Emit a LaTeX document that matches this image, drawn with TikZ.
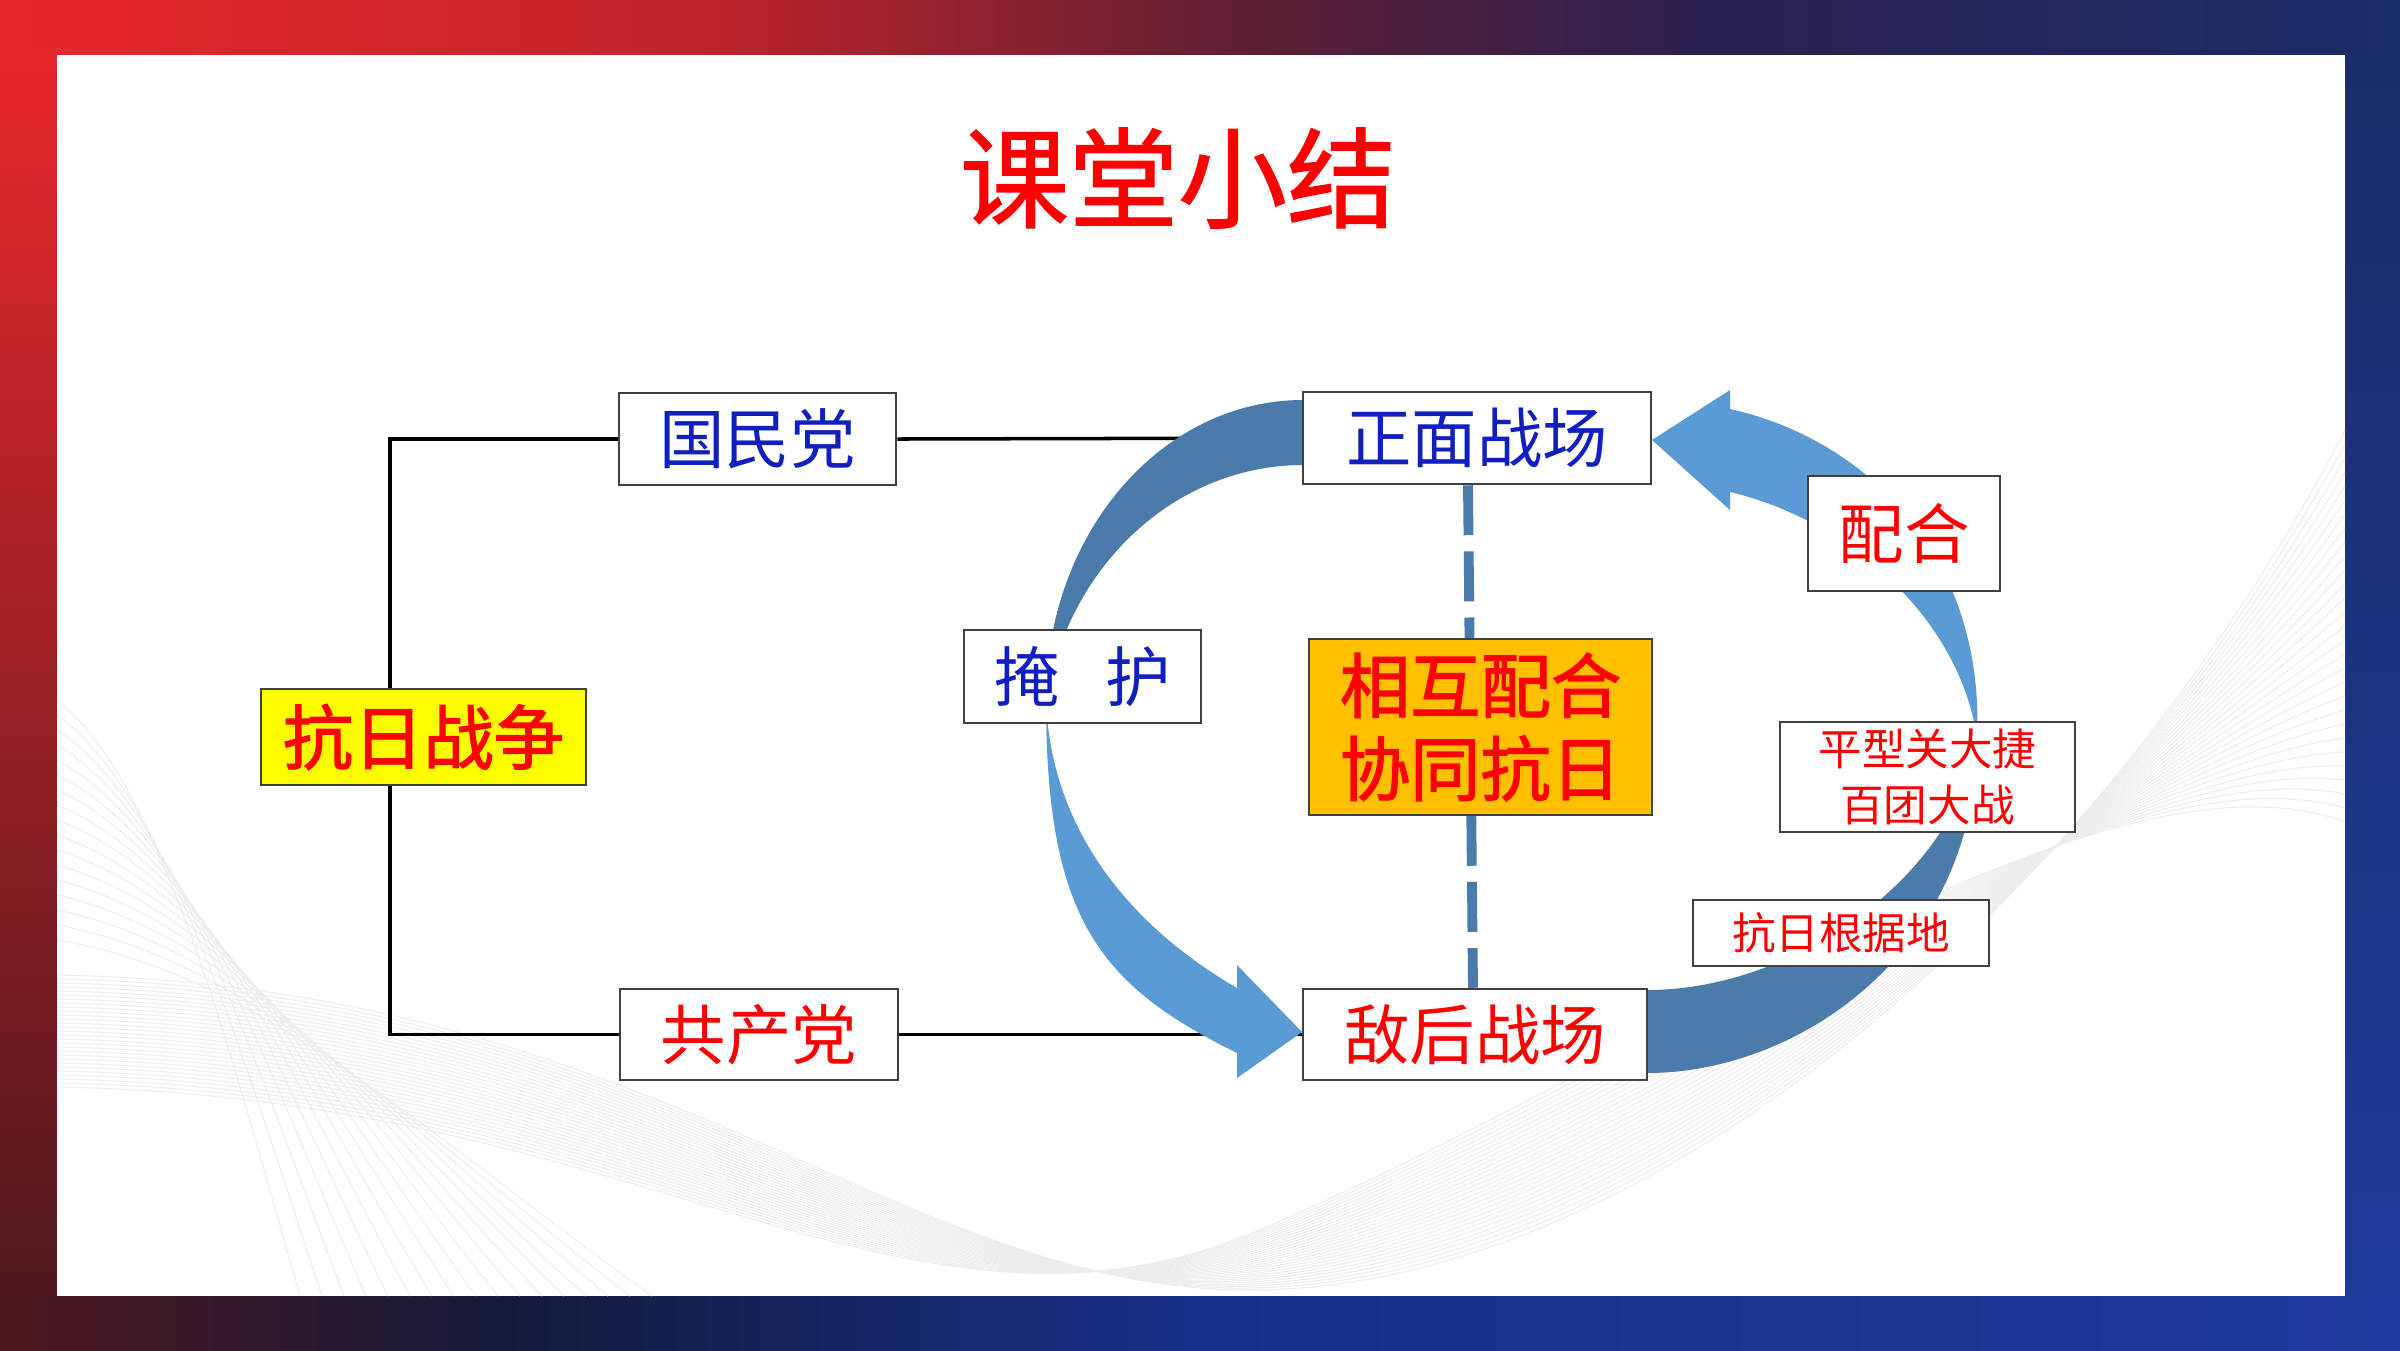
\documentclass[tikz,border=0pt]{standalone}
\usepackage{fontspec}
\newfontfamily\cjk{Noto Sans CJK SC}
\newfontfamily\cjkt{Noto Sans CJK SC}[FakeBold=1.2]
\newfontfamily\cjkh{Noto Sans CJK SC}[FakeBold=1.8]
\usetikzlibrary{backgrounds}
\definecolor{fa}{HTML}{E8282C}
\definecolor{fb}{HTML}{C0232A}
\definecolor{fc}{HTML}{5E1F34}
\definecolor{fd}{HTML}{2B2050}
\definecolor{fe}{HTML}{1B2D68}
\definecolor{fl}{HTML}{4E181E}
\definecolor{fm}{HTML}{141A3A}
\definecolor{fn}{HTML}{18308A}
\definecolor{fo}{HTML}{1E3A9A}
\definecolor{kblue}{HTML}{1020C0}
\definecolor{kred}{HTML}{FF0000}
\definecolor{boxedge}{HTML}{404040}
\definecolor{arrdark}{HTML}{4A7BAA}
\definecolor{arrlight}{HTML}{5B9BD5}
\definecolor{byellow}{HTML}{FFFF00}
\definecolor{borange}{HTML}{FFC000}
\tikzset{
  box/.style={draw=boxedge, line width=0.7pt, fill=white, inner sep=0pt, align=center},
  kai/.style={font=\cjk\fontsize{18.6}{22}\selectfont},
  kaismall/.style={font=\cjk\fontsize{12.4}{15.9}\selectfont},
  heavy/.style={font=\cjkh\fontsize{20}{23.6}\selectfont},
  conn/.style={line width=1pt, draw=black},
  darkarr/.style={fill=arrdark},
  lightarr/.style={fill=arrlight},
  dashline/.style={draw=arrdark, line width=2.8pt, dash pattern=on 14.2pt off 4.6pt},
  wave/.style={draw=black!7, line width=0.3pt},
}
\begin{document}
\begin{tikzpicture}[x=0.01cm,y=-0.01cm]
\useasboundingbox (0,0) rectangle (2400,1350);

% ---------- nodes ----------
\node[text=kred, font=\cjkt\fontsize{31}{36}\selectfont] (title) at (1178,178) {课堂小结};

\node[box,kai,text=kblue,minimum width=2.77cm,minimum height=0.92cm] (gmd) at (757.5,439) {国民党};
\node[box,heavy,fill=byellow,text=kred,minimum width=3.25cm,minimum height=0.96cm] (kr) at (423.5,737) {抗日战争};
\node[box,kai,text=kred,minimum width=2.78cm,minimum height=0.91cm] (gcd) at (759,1034.5) {共产党};
\node[box,kai,text=kblue,minimum width=3.48cm,minimum height=0.92cm] (zm) at (1477,438) {正面战场};
\node[box,kai,text=kred,minimum width=3.44cm,minimum height=0.91cm] (dh) at (1475,1034.5) {敌后战场};
\node[box,heavy,fill=borange,text=kred,minimum width=3.43cm,minimum height=1.76cm] (xh) at (1480.5,727) {相互配合\\协同抗日};
\node[box,kai,text=kblue,minimum width=2.37cm,minimum height=0.93cm] (yh) at (1082.5,676.5) {掩\hspace{0.7em}护};
\node[box,kai,text=kred,minimum width=1.92cm,minimum height=1.15cm] (ph) at (1904,533.5) {配合};
\node[box,kaismall,text=kred,minimum width=2.95cm,minimum height=1.10cm] (px) at (1927.5,777) {平型关大捷\\百团大战};
\node[box,kaismall,text=kred,minimum width=2.96cm,minimum height=0.66cm] (gj) at (1841,933) {抗日根据地};

\begin{pgfonlayer}{background}
% ---------- frame ----------
\fill[left color=fa, right color=fb] (0,0) rectangle (701,55);
\fill[left color=fb, right color=fc] (700,0) rectangle (1251,55);
\fill[left color=fc, right color=fd] (1250,0) rectangle (1701,55);
\fill[left color=fd, right color=fe] (1700,0) rectangle (2400,55);
\fill[top color=fa, bottom color=fl] (0,54) rectangle (57,1297);
\fill[left color=fl, right color=fm] (0,1296) rectangle (501,1350);
\fill[left color=fm, right color=fn] (500,1296) rectangle (1201,1350);
\fill[left color=fn, right color=fo] (1200,1296) rectangle (2400,1350);
\fill[top color=fe, bottom color=fo] (2345,54) rectangle (2400,1297);
\fill[white] (57,55) rectangle (2345,1296);

% ---------- faint waves ----------
\begin{scope}
\clip (57,55) rectangle (2345,1296);
\foreach \i in {0,...,28}{
  \draw[wave] (57,{975+4*\i}) .. controls (650,{985+4*\i}) and (900,{1290+3*\i}) .. (1250,{1290-2*\i}) .. controls (1650,{1290-8*\i}) and (2100,{900-6*\i}) .. (2345,{430+14*\i});
}
\foreach \i in {0,...,16}{
  \draw[wave] (57,{700+15*\i}) .. controls ({160+6*\i},{780+12*\i}) and ({230+12*\i},{1050+5*\i}) .. ({300+22*\i},1296);
}
\end{scope}

% ---------- connectors ----------
\coordinate (bx) at (390,737);
\draw[conn] (gmd.west) -| (bx) |- (gcd.west);
\draw[conn] (gmd.east) -- (zm.west);
\draw[conn] (gcd.east) -- (dh.west);

% ---------- left curved arrow (cover) ----------
\fill[darkarr] (1303,400) .. controls (1161,400) and (1046,534) .. (1046,700)
  .. controls (1070,560) and (1180,465) .. (1303,465) -- cycle;
\fill[lightarr] (1046,700) .. controls (1046,920) and (1100,985) .. (1237,1053)
  -- (1237,1078) -- (1302,1032) -- (1237,965) -- (1237,988)
  .. controls (1120,920) and (1050,820) .. (1046,700) -- cycle;

% ---------- right curved arrow (cooperate) ----------
\fill[darkarr] (1647,1073) .. controls (1800,1073) and (1977,950) .. (1977,738)
  .. controls (1960,870) and (1800,990) .. (1647,990) -- cycle;
\fill[lightarr] (1977,738) .. controls (1985,560) and (1870,440) .. (1730,409)
  -- (1730,390) -- (1652,440) -- (1730,510) -- (1730,492)
  .. controls (1850,520) and (1960,620) .. (1977,738) -- cycle;

% ---------- dashed link ----------
\draw[dashline] ([xshift=-0.09cm]zm.south) -- ([xshift=-0.02cm]dh.north);
\end{pgfonlayer}
\end{tikzpicture}
\end{document}
